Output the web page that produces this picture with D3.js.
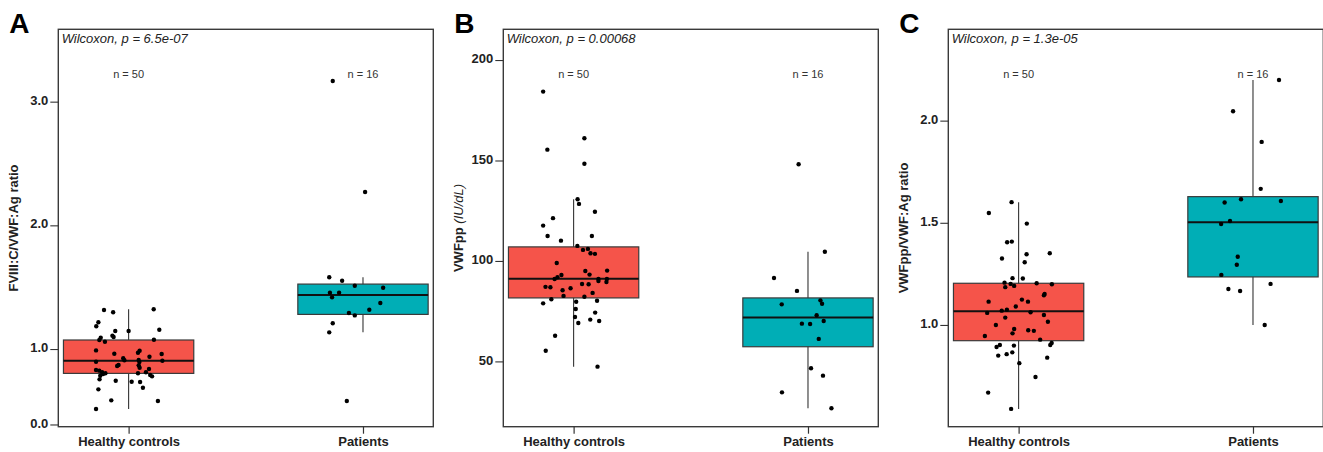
<!DOCTYPE html>
<html>
<head>
<meta charset="utf-8">
<script src="https://cdn.jsdelivr.net/npm/d3@7"></script>
<style>
  body { margin: 0; background: #fff; }
  text { font-family: "Liberation Sans", Arial, sans-serif; }
</style>
</head>
<body>
<div id="chart"></div>
<script>
// ---- data ----
const groups = ["Healthy controls", "Patients"];
const groupN = ["n = 50", "n = 16"];
const panelLetters = ["A", "B", "C"];
const pLabels = ["6.5e-07", "0.00068", "1.3e-05"];

// A: FVIII:C/VWF:Ag ratio
const ratioAControls = [1.315,1.297,1.321,1.216,1.184,1.146,1.146,1.156,1.108,1.097,1.091,1.073,1.059,1.075,0.989,0.962,0.986,0.970,0.960,0.938,0.925,0.909,0.897,0.911,0.905,0.871,0.863,0.868,0.849,0.830,0.825,0.812,0.804,0.784,0.755,0.804,0.812,0.838,0.790,0.779,0.744,0.736,0.733,0.687,0.674,0.585,0.580,0.515,0.798,0.895];
const jitterAControls = [-0.105,-0.066,0.107,-0.129,-0.138,-0.057,0.0,0.131,-0.069,-0.064,-0.119,-0.125,-0.101,0.108,-0.139,-0.061,0.047,0.040,0.141,0.089,-0.023,-0.018,-0.139,0.043,0.144,-0.043,-0.049,0.043,0.047,-0.139,-0.125,-0.113,-0.099,-0.121,-0.124,0.040,0.074,0.087,0.092,0.100,-0.055,0.013,0.049,0.061,-0.129,-0.074,0.125,-0.139,-0.109,0.046];
const ratioAPatients = [1.580,1.552,1.512,1.496,1.455,1.455,1.418,1.372,1.318,1.291,1.272,1.208,1.135,3.167,2.269,0.580];
const jitterAPatients = [-0.144,-0.089,-0.035,0.086,-0.141,-0.102,-0.132,0.074,0.027,-0.060,-0.035,-0.129,-0.144,-0.129,0.009,-0.069];
// box stats: [whisker low, q1, median, q3, whisker high]
const boxAControls = [0.515, 0.803, 0.906, 1.073, 1.321];
const boxAPatients = [1.135, 1.280, 1.437, 1.525, 1.580];
const ticksA = [0.39, 1, 2, 3];
const tickLabelsA = ["0.0", "1.0", "2.0", "3.0"];

// B: VWFpp (IU/dL)
const vwfppControls = [184.3,161.1,155.4,148.4,130.7,128.4,124.5,121.3,117.6,112.4,112.4,110.1,107.5,105.5,106.0,103.8,103.5,99.0,95.0,93.2,95.2,93.0,91.9,91.0,91.0,90.0,91.0,89.5,88.5,88.4,87.1,86.9,85.4,86.4,84.1,82.6,82.2,80.9,78.9,79.7,80.2,76.1,72.1,74.3,70.8,70.1,69.1,62.8,55.3,47.4];
const jitterBControls = [-0.130,0.046,-0.112,0.046,0.017,0.023,0.091,-0.088,-0.130,-0.111,0.078,-0.054,0.016,0.040,0.061,0.072,0.091,-0.072,0.050,0.068,0.143,-0.052,-0.069,-0.081,0.106,0.106,0.142,0.140,0.036,0.064,-0.120,-0.099,-0.047,-0.013,0.081,-0.043,0.046,-0.095,-0.130,0.011,0.100,0.009,0.006,0.092,0.071,0.109,0.020,-0.079,-0.119,0.102];
const vwfppPatients = [148.1,104.6,91.5,85.1,80.4,78.7,78.4,73.0,70.1,68.8,68.6,61.2,46.6,42.9,34.6,26.7];
const jitterBPatients = [-0.040,0.072,-0.145,-0.047,0.053,0.060,-0.112,0.037,0.067,-0.026,0.009,0.046,0.013,0.064,-0.111,0.100];
const boxBControls = [47.4, 81.6, 91.2, 107.0, 130.7];
const boxBPatients = [26.7, 57.3, 71.8, 81.6, 104.6];
const ticksB = [50, 100, 150, 200];
const tickLabelsB = ["50", "100", "150", "200"];

// C: VWFpp/VWF:Ag ratio
const ratioCControls = [1.601,1.548,1.496,1.405,1.408,1.325,1.346,1.307,1.351,1.229,1.227,1.207,1.201,1.185,1.191,1.204,1.199,1.152,1.145,1.114,1.124,1.114,1.090,1.075,1.070,1.059,1.062,1.049,1.036,1.016,1.000,0.980,0.959,0.974,0.971,0.946,0.928,0.912,0.902,0.902,0.892,0.899,0.866,0.857,0.850,0.840,0.813,0.745,0.669,0.589];
const jitterCControls = [-0.030,-0.127,0.035,-0.049,-0.029,-0.071,0.034,0.026,0.133,-0.026,0.018,-0.060,-0.034,-0.057,-0.019,0.077,0.142,0.111,0.108,-0.128,0.014,0.040,-0.012,-0.050,-0.072,-0.134,0.051,0.108,-0.057,0.125,-0.097,-0.019,-0.026,0.041,0.065,-0.144,0.092,0.141,0.135,-0.080,-0.094,-0.020,-0.027,-0.051,-0.087,0.122,0.003,0.072,-0.130,-0.032];
const ratioCPatients = [2.199,2.046,1.896,1.666,1.615,1.599,1.607,1.509,1.494,1.334,1.295,1.245,1.201,1.176,1.166,1.000];
const jitterCPatients = [0.111,-0.085,0.037,0.033,-0.051,-0.121,0.119,-0.098,-0.136,-0.065,-0.069,-0.135,0.075,-0.105,-0.055,0.050];
const boxCControls = [0.589, 0.923, 1.067, 1.204, 1.601];
const boxCPatients = [1.000, 1.235, 1.503, 1.628, 2.199];
const ticksC = [1.0, 1.5, 2.0];
const tickLabelsC = ["1.0", "1.5", "2.0"];

// ---- layout ----
const fillColors = ["#F5544A", "#00AEB6"];
const frameW = 375, frameH = 397.4, frameTop = 29.3;

const panels = [
  { left: 58.3, domain: [0.372, 3.585], ticks: ticksA, labels: tickLabelsA,
    values: [ratioAControls, ratioAPatients], jitter: [jitterAControls, jitterAPatients],
    boxes: [boxAControls, boxAPatients], ylab: [["FVIII:C/VWF:Ag ratio", "bold", "normal"]] },
  { left: 503.3, domain: [17.5, 215.3], ticks: ticksB, labels: tickLabelsB,
    values: [vwfppControls, vwfppPatients], jitter: [jitterBControls, jitterBPatients],
    boxes: [boxBControls, boxBPatients], ylab: [["VWFpp ", "bold", "normal"], ["(IU/dL)", "normal", "italic"]] },
  { left: 948.3, domain: [0.502, 2.447], ticks: ticksC, labels: tickLabelsC,
    values: [ratioCControls, ratioCPatients], jitter: [jitterCControls, jitterCPatients],
    boxes: [boxCControls, boxCPatients], ylab: [["VWFpp/VWF:Ag ratio", "bold", "normal"]] }
];

const svg = d3.select("#chart")
    .append("svg")
    .attr("width", 1323)
    .attr("height", 452)
    .style("display", "block");

svg.append("rect").attr("width", 1323).attr("height", 452).attr("fill", "#fff");

panels.forEach((p, i) => {
  const g = svg.append("g")
      .attr("transform", `translate(${p.left},${frameTop})`);

  const x = d3.scalePoint()
      .domain(groups)
      .range([0, frameW])
      .padding(0.3);
  const step = x.step();
  const boxW = step * 0.556;

  const y = d3.scaleLinear()
      .domain(p.domain)
      .range([frameH, 0]);

  // whiskers + boxes
  groups.forEach((grp, k) => {
    const b = p.boxes[k];
    const cx = x(grp);
    g.append("line")
        .attr("x1", cx).attr("x2", cx)
        .attr("y1", y(b[0])).attr("y2", y(b[4]))
        .attr("stroke", "#333").attr("stroke-width", 1.1);
    g.append("rect")
        .attr("x", cx - boxW / 2)
        .attr("width", boxW)
        .attr("y", y(b[3]))
        .attr("height", y(b[1]) - y(b[3]))
        .attr("fill", fillColors[k])
        .attr("stroke", "#3a3a3a")
        .attr("stroke-width", 1.2);
    g.append("line")
        .attr("x1", cx - boxW / 2).attr("x2", cx + boxW / 2)
        .attr("y1", y(b[2])).attr("y2", y(b[2]))
        .attr("stroke", "#111").attr("stroke-width", 2);
  });

  // jittered points
  groups.forEach((grp, k) => {
    g.selectAll(null)
        .data(p.values[k].map((v, n) => ({ v: v, j: p.jitter[k][n] })))
        .enter()
        .append("circle")
        .attr("cx", d => x(grp) + d.j * step)
        .attr("cy", d => y(d.v))
        .attr("r", 2.2)
        .attr("fill", "#000");
  });

  // frame
  g.append("rect")
      .attr("width", frameW)
      .attr("height", frameH)
      .attr("fill", "none")
      .attr("stroke", "#3a3a3a")
      .attr("stroke-width", 1.4);

  // axes
  const yAxis = g.append("g")
      .call(d3.axisLeft(y).tickValues(p.ticks)
        .tickFormat((d, n) => p.labels[n]).tickSize(8).tickPadding(2));
  yAxis.select(".domain").remove();
  yAxis.selectAll("line").attr("stroke", "#333").attr("stroke-width", 1.1);
  yAxis.selectAll("text")
      .attr("font-size", 13).attr("font-weight", "bold")
      .attr("fill", "#222").attr("dy", "0.2em")
      .style("font-family", "'Liberation Sans', Arial, sans-serif");

  const xAxis = g.append("g")
      .attr("transform", `translate(0,${frameH})`)
      .call(d3.axisBottom(x).tickSize(7).tickPadding(3.5));
  xAxis.select(".domain").remove();
  xAxis.selectAll("line").attr("stroke", "#333").attr("stroke-width", 1.2);
  xAxis.selectAll("text")
      .attr("font-size", 13).attr("font-weight", "bold")
      .attr("fill", "#222")
      .style("font-family", "'Liberation Sans', Arial, sans-serif");

  // y label
  const yl = g.append("text")
      .attr("transform", `translate(-45,${frameH / 2}) rotate(-90)`)
      .attr("text-anchor", "middle")
      .attr("dy", "0.35em")
      .attr("font-size", 13)
      .attr("fill", "#222");
  p.ylab.forEach(part => {
    yl.append("tspan").text(part[0])
        .attr("font-weight", part[1])
        .attr("font-style", part[2]);
  });

  // test + n labels
  g.append("text")
      .attr("x", 3.4).attr("y", 14)
      .attr("font-size", 13).attr("font-style", "italic")
      .attr("fill", "#222")
      .text(`Wilcoxon, p = ${pLabels[i]}`);

  groups.forEach((grp, k) => {
    g.append("text")
        .attr("x", x(grp)).attr("y", 49)
        .attr("text-anchor", "middle")
        .attr("font-size", 11)
        .attr("fill", "#333")
        .text(groupN[k]);
  });

  // panel letter
  g.append("text")
      .attr("x", -49).attr("y", 4)
      .attr("font-size", 28).attr("font-weight", "bold")
      .attr("fill", "#000")
      .text(panelLetters[i]);
});
</script>
</body>
</html>
